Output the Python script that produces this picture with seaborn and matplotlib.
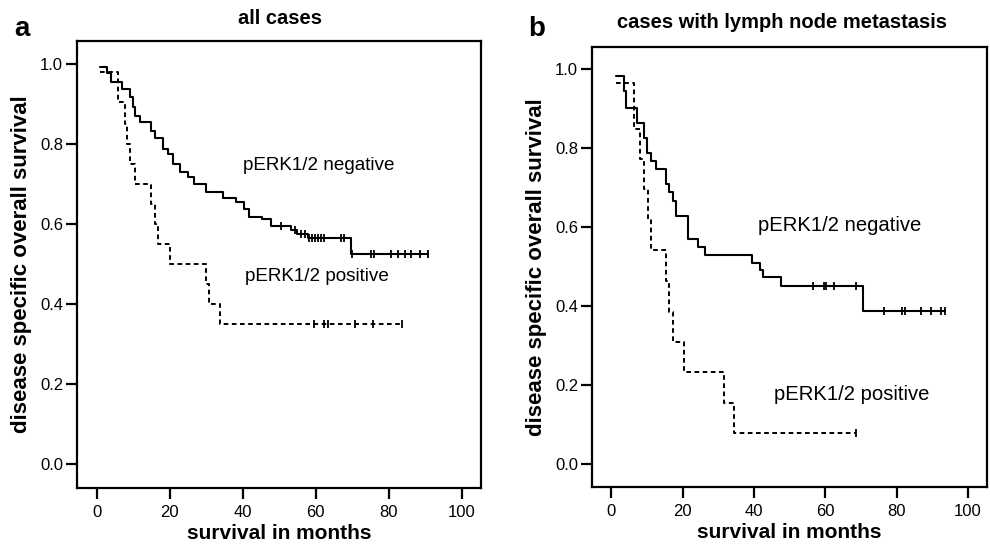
import numpy as np
import pandas as pd
import matplotlib.pyplot as plt
import seaborn as sns

# panel a: all cases
a_neg_t = [1.0, 2.7, 4.0, 6.8, 9.0, 9.9, 10.6, 11.9, 15.0, 15.9, 18.2, 19.5, 20.9, 22.7,
           24.9, 26.7, 29.9, 34.5, 38.2, 40.4, 41.8, 45.4, 47.7, 53.2, 55.0, 57.8, 69.8, 90.8]
a_neg_s = [0.993, 0.976, 0.955, 0.937, 0.916, 0.891, 0.870, 0.854, 0.833, 0.816, 0.787, 0.775,
           0.750, 0.730, 0.717, 0.700, 0.679, 0.666, 0.654, 0.638, 0.617, 0.613, 0.596, 0.584,
           0.575, 0.565, 0.525, 0.525]
a_neg_cens = [50.4, 54.4, 56.0, 57.2, 58.3, 59.0, 59.8, 60.6, 61.4, 62.4, 66.9, 67.8, 70.0,
              75.2, 76.1, 80.7, 82.5, 84.4, 86.2, 88.5, 90.8]
a_pos_t = [1.0, 5.8, 7.7, 8.4, 9.0, 10.6, 15.0, 15.9, 16.8, 20.0, 29.9, 30.9, 33.7, 83.7]
a_pos_s = [0.979, 0.904, 0.85, 0.80, 0.75, 0.70, 0.65, 0.60, 0.55, 0.50, 0.45, 0.40, 0.35, 0.35]
a_pos_cens = [59.6, 62.4, 63.3, 70.7, 75.8, 83.7]

# panel b: cases with lymph node metastasis
b_neg_t = [1.4, 3.5, 4.2, 7.2, 9.2, 10.1, 11.1, 12.5, 15.4, 16.3, 17.2, 18.2, 21.4, 24.3,
           26.3, 39.4, 41.6, 42.4, 47.5, 70.5, 93.6]
b_neg_s = [0.983, 0.945, 0.903, 0.865, 0.827, 0.789, 0.768, 0.747, 0.709, 0.688, 0.667, 0.629,
           0.570, 0.550, 0.529, 0.510, 0.492, 0.473, 0.451, 0.387, 0.387]
b_neg_cens = [56.4, 59.5, 60.2, 62.5, 68.5, 76.3, 81.5, 82.3, 86.7, 89.5, 92.3, 93.6]
b_pos_t = [1.4, 6.3, 8.1, 9.2, 10.2, 11.1, 15.4, 16.3, 17.2, 20.4, 31.5, 34.3, 68.5]
b_pos_s = [0.965, 0.848, 0.772, 0.696, 0.620, 0.542, 0.464, 0.384, 0.310, 0.232, 0.154, 0.078, 0.078]
b_pos_cens = [68.5]

label_neg = 'pERK1/2 negative'
label_pos = 'pERK1/2 positive'
x_ticks = [0, 20, 40, 60, 80, 100]
y_ticks = [0.0, 0.2, 0.4, 0.6, 0.8, 1.0]

sns.set_style('ticks')
plt.rcParams['font.family'] = ['Liberation Sans', 'DejaVu Sans']
plt.rcParams['text.color'] = 'black'
plt.rcParams['axes.labelcolor'] = 'black'

W, H = 990, 548
fig = plt.figure(figsize=(W / 100, H / 100), dpi=100)


def px_box(l, t, r, b):
    return [l / W, 1 - b / H, (r - l) / W, (b - t) / H]


def km(ax, t, s, cens, dashed):
    df = pd.DataFrame({'t': t, 's': s})
    style = dict(color='black', linewidth=1.5, drawstyle='steps-post')
    if dashed:
        style.update(linestyle=(0, (2.4, 1.8)), linewidth=1.4)
    sns.lineplot(data=df, x='t', y='s', estimator=None, sort=False, ax=ax, **style)
    idx = np.searchsorted(t, cens, side='right') - 1
    cdf = pd.DataFrame({'t': cens, 's': np.array(s)[idx]})
    sns.scatterplot(data=cdf, x='t', y='s', marker='|', s=32, color='black',
                    linewidth=1.3, ax=ax, zorder=3)


def style_ax(ax):
    ax.set_xlim(-5.4, 105.3)
    ax.set_ylim(-0.059, 1.057)
    ax.set_xticks(x_ticks)
    ax.set_yticks(y_ticks)
    ax.set_yticklabels([f'{v:.1f}' for v in y_ticks])
    for sp in ax.spines.values():
        sp.set_visible(True)
        sp.set_linewidth(1.6)
        sp.set_color('black')
    ax.tick_params(axis='both', length=8, width=1.6, color='black', labelsize=12,
                   labelcolor='black')
    ax.tick_params(axis='y', pad=2)
    ax.tick_params(axis='x', pad=4)
    ax.set_xlabel('survival in months', fontsize=15, fontweight='bold', labelpad=3)
    ax.set_ylabel('disease specific overall survival', fontsize=16, fontweight='bold',
                  labelpad=6)


ax_a = fig.add_axes(px_box(77, 41, 481, 488))
km(ax_a, a_neg_t, a_neg_s, a_neg_cens, False)
km(ax_a, a_pos_t, a_pos_s, a_pos_cens, True)
style_ax(ax_a)
ax_a.text(40, 0.746, label_neg, fontsize=13.6, va='center', ha='left')
ax_a.text(40.5, 0.469, label_pos, fontsize=13.6, va='center', ha='left')

ax_b = fig.add_axes(px_box(592, 47, 987, 487))
km(ax_b, b_neg_t, b_neg_s, b_neg_cens, False)
km(ax_b, b_pos_t, b_pos_s, b_pos_cens, True)
style_ax(ax_b)
ax_b.text(41.2, 0.603, label_neg, fontsize=14.6, va='center', ha='left')
ax_b.text(45.7, 0.175, label_pos, fontsize=14.6, va='center', ha='left')

fig.text(280 / W, 1 - 19 / H, 'all cases', fontsize=14.5, fontweight='bold',
         ha='center', va='center')
fig.text(782 / W, 1 - 22 / H, 'cases with lymph node metastasis', fontsize=14.5,
         fontweight='bold', ha='center', va='center')
fig.text(22 / W, 1 - 29 / H, 'a', fontsize=20, fontweight='bold', ha='center', va='center')
fig.text(537 / W, 1 - 29 / H, 'b', fontsize=20, fontweight='bold', ha='center', va='center')

fig.savefig('out.png', dpi=100)
